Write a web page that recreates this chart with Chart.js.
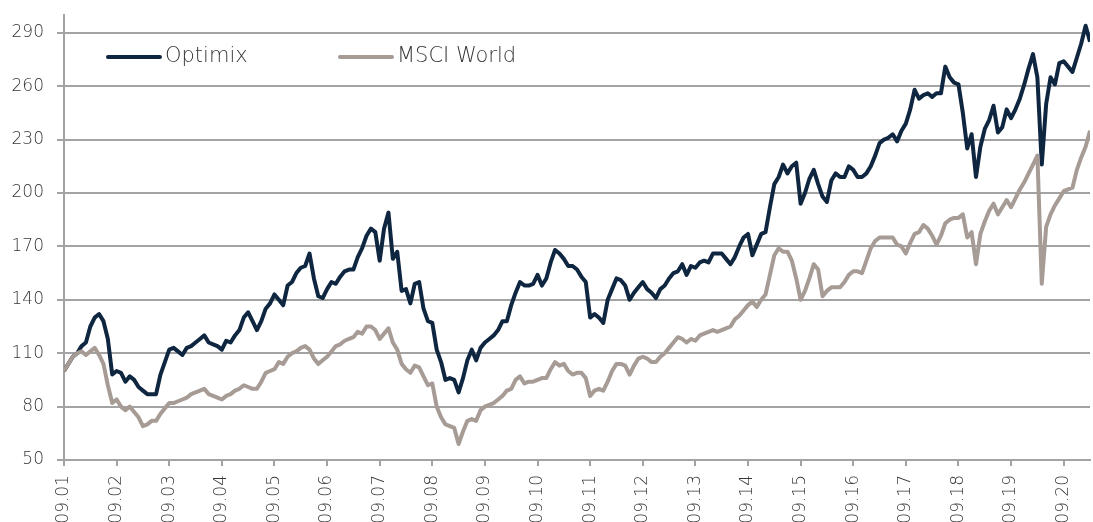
<!DOCTYPE html>
<html>
<head>
<meta charset="utf-8">
<script src="https://cdn.jsdelivr.net/npm/chart.js@4/dist/chart.umd.min.js"></script>
<style>
  html, body { margin: 0; padding: 0; background: #fff; }
  #wrap { width: 1093px; height: 522px; }
</style>
</head>
<body>
<div id="wrap"><canvas id="perfChart" width="1093" height="522"></canvas></div>
<script>
// month-end index values, starting September 2001 (one entry per month)
const yearTicks = ['09.01', '09.02', '09.03', '09.04', '09.05', '09.06', '09.07', '09.08', '09.09', '09.10',
  '09.11', '09.12', '09.13', '09.14', '09.15', '09.16', '09.17', '09.18', '09.19', '09.20'];

const yTicks = [50, 80, 110, 140, 170, 200, 230, 260, 290];

const optimix = [
  100, 104, 108, 110, 114, 116, 125, 130, 132, 128,
  118, 98, 100, 99, 94, 97, 95, 91, 89, 87,
  87, 87, 98, 105, 112, 113, 111, 109, 113, 114,
  116, 118, 120, 116, 115, 114, 112, 117, 116, 120,
  123, 130, 133, 128, 123, 128, 135, 138, 143, 140,
  137, 148, 150, 155, 158, 159, 166, 152, 142, 141,
  146, 150, 149, 153, 156, 157, 157, 164, 169, 176,
  180, 178, 162, 180, 189, 163, 167, 145, 146, 138,
  149, 150, 135, 128, 127, 112, 105, 95, 96, 95,
  88, 96, 106, 112, 106, 113, 116, 118, 120, 123,
  128, 128, 137, 144, 150, 148, 148, 149, 154, 148,
  152, 161, 168, 166, 163, 159, 159, 157, 153, 150,
  130, 132, 130, 127, 140, 146, 152, 151, 148, 140,
  144, 147, 150, 146, 144, 141, 146, 148, 152, 155,
  156, 160, 154, 159, 158, 161, 162, 161, 166, 166,
  166, 163, 160, 164, 170, 175, 177, 165, 171, 177,
  178, 192, 205, 209, 216, 211, 215, 217, 194, 200,
  208, 213, 205, 198, 195, 207, 211, 209, 209, 215,
  213, 209, 209, 211, 215, 221, 228, 230, 231, 233,
  229, 235, 239, 247, 258, 253, 255, 256, 254, 256,
  256, 271, 265, 262, 261, 245, 225, 233, 209, 226,
  236, 241, 249, 234, 237, 247, 242, 247, 253, 261,
  270, 278, 265, 216, 250, 265, 261, 273, 274, 271,
  268, 276, 284, 294, 285
];

const msciWorld = [
  100, 104, 108, 110, 111, 109, 111, 113, 109, 104,
  92, 82, 84, 80, 78, 80, 77, 74, 69, 70,
  72, 72, 76, 79, 82, 82, 83, 84, 85, 87,
  88, 89, 90, 87, 86, 85, 84, 86, 87, 89,
  90, 92, 91, 90, 90, 94, 99, 100, 101, 105,
  104, 108, 110, 111, 113, 114, 112, 107, 104, 106,
  108, 111, 114, 115, 117, 118, 119, 122, 121, 125,
  125, 123, 118, 121, 124, 116, 112, 104, 101, 99,
  103, 102, 97, 92, 93, 80, 74, 70, 69, 68,
  59, 66, 72, 73, 72, 78, 80, 81, 82, 84,
  86, 89, 90, 95, 97, 93, 94, 94, 95, 96,
  96, 101, 105, 103, 104, 100, 98, 99, 99, 96,
  86, 89, 90, 89, 94, 100, 104, 104, 103, 98,
  103, 107, 108, 107, 105, 105, 108, 110, 113, 116,
  119, 118, 116, 118, 117, 120, 121, 122, 123, 122,
  123, 124, 125, 129, 131, 134, 137, 139, 136, 140,
  143, 154, 165, 169, 167, 167, 162, 152, 140, 145,
  152, 160, 157, 142, 145, 147, 147, 147, 150, 154,
  156, 156, 155, 162, 169, 173, 175, 175, 175, 175,
  171, 170, 166, 172, 177, 178, 182, 180, 176, 171,
  176, 183, 185, 186, 186, 188, 175, 178, 160, 177,
  184, 190, 194, 188, 192, 196, 192, 197, 202, 206,
  211, 216, 221, 149, 181, 188, 193, 197, 201, 202,
  203, 213, 220, 226, 235
];

const NAVY = '#0f2641';
const TAUPE = '#a69b95';
const GRID = '#a3a3a3';
const TEXT = '#363636';
const FONT = 'DejaVu Sans';
const WEIGHT = 200;

const toPoints = arr => arr.map((v, i) => ({ x: i, y: v }));

// legend drawn inside the plot, like the original
const insideLegend = {
  id: 'insideLegend',
  afterDraw(chart) {
    const ctx = chart.ctx;
    const items = [
      { label: 'Optimix', color: NAVY, x: 108 },
      { label: 'MSCI World', color: TAUPE, x: 340 }
    ];
    ctx.save();
    ctx.font = WEIGHT + ' 21px "' + FONT + '"';
    ctx.textBaseline = 'middle';
    ctx.textAlign = 'left';
    items.forEach(it => {
      ctx.strokeStyle = it.color;
      ctx.lineWidth = 4;
      ctx.lineCap = 'round';
      ctx.beginPath();
      ctx.moveTo(it.x, 57);
      ctx.lineTo(it.x + 52, 57);
      ctx.stroke();
      ctx.fillStyle = TEXT;
      ctx.fillText(it.label, it.x + 57, 57);
    });
    ctx.restore();
  }
};

// no extra label padding, so the plot box lands where the original is
const noPad = scale => {
  scale.paddingTop = 0;
  scale.paddingBottom = 0;
  scale.paddingLeft = 0;
  scale.paddingRight = 0;
};

new Chart(document.getElementById('perfChart'), {
  type: 'line',
  data: {
    datasets: [
      { label: 'MSCI World', data: toPoints(msciWorld), borderColor: TAUPE, borderWidth: 4, pointRadius: 0, tension: 0, borderJoinStyle: 'round' },
      { label: 'Optimix', data: toPoints(optimix), borderColor: NAVY, borderWidth: 4, pointRadius: 0, tension: 0, borderJoinStyle: 'round' }
    ]
  },
  options: {
    responsive: false,
    animation: false,
    layout: { padding: { top: 15, right: 3, left: 0, bottom: 0 } },
    plugins: { legend: { display: false }, tooltip: { enabled: false } },
    scales: {
      x: {
        type: 'linear',
        min: 0,
        max: optimix.length - 1,
        afterBuildTicks: scale => { scale.ticks = yearTicks.map((_, k) => ({ value: k * 12 })); },
        afterFit: scale => { scale.height = 62; noPad(scale); },
        grid: { drawOnChartArea: false, drawTicks: true, tickLength: 6, color: GRID, lineWidth: 2 },
        border: { display: true, color: GRID, width: 2 },
        ticks: {
          autoSkip: false,
          minRotation: 90,
          maxRotation: 90,
          padding: 9,
          color: TEXT,
          font: { family: FONT, size: 17, weight: WEIGHT },
          callback: v => yearTicks[Math.round(v / 12)]
        }
      },
      y: {
        min: 50,
        max: 300,
        afterBuildTicks: scale => { scale.ticks = yTicks.map(v => ({ value: v })); },
        afterFit: scale => { scale.width = 64; noPad(scale); },
        grid: { color: GRID, lineWidth: 2, tickLength: 7 },
        border: { display: true, color: GRID, width: 2 },
        ticks: {
          padding: 13,
          color: TEXT,
          font: { family: FONT, size: 17, weight: WEIGHT }
        }
      }
    }
  },
  plugins: [insideLegend]
});
</script>
</body>
</html>
